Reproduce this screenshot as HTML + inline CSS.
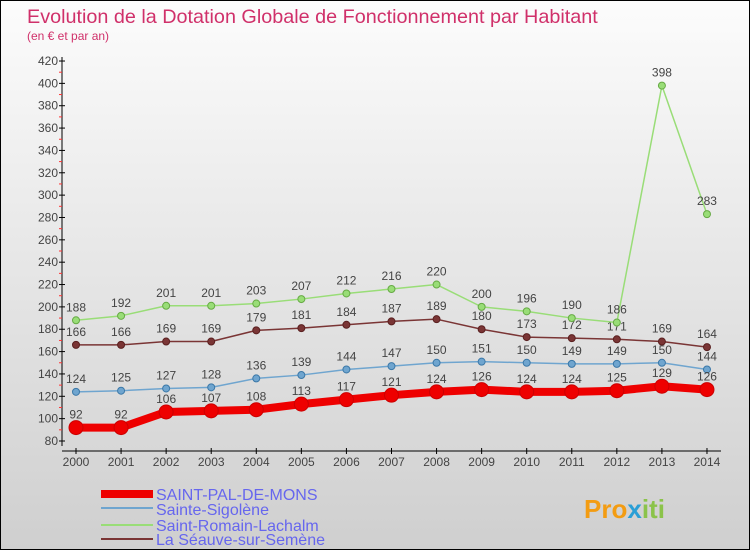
<!DOCTYPE html>
<html><head><meta charset="utf-8"><style>
body{margin:0}
#c{width:748px;height:548px;border:1px solid #000;background:linear-gradient(#fcfcfc,#cfcfcf);position:relative;font-family:"Liberation Sans",sans-serif;overflow:hidden}
</style></head><body>
<div id="c">
<svg id="s" width="748" height="548" style="position:absolute;left:0;top:0">
<text x="26" y="22" font-size="19.8" fill="#d0306a">Evolution de la Dotation Globale de Fonctionnement par Habitant</text>
<text x="26" y="39" font-size="12" fill="#d0306a">(en € et par an)</text>
<g id="axes"></g><g id="series"></g>
<g font-size="16" fill="#6666ee">
<rect x="100" y="489" width="52" height="8" fill="#e00"/>
<text x="155" y="499">SAINT-PAL-DE-MONS</text>
<rect x="100" y="506" width="52" height="2" fill="#6fa5cf"/>
<text x="155" y="514">Sainte-Sigolène</text>
<rect x="100" y="523" width="52" height="2" fill="#99dd77"/>
<text x="155" y="530">Saint-Romain-Lachalm</text>
<rect x="100" y="537" width="52" height="2" fill="#7a3535"/>
<text x="155" y="544">La Séauve-sur-Semène</text>
</g>
<text x="583" y="517" font-size="26" font-weight="bold" fill="#f39c12">Pro<tspan fill="#2a9fd6">x</tspan><tspan fill="#8bc34a">iti</tspan></text>
</svg>
</div>
<script>
const years=[2000,2001,2002,2003,2004,2005,2006,2007,2008,2009,2010,2011,2012,2013,2014];
const yTicks=[80,100,120,140,160,180,200,220,240,260,280,300,320,340,360,380,400,420];
const saintPal=[92,92,106,107,108,113,117,121,124,126,124,124,125,129,126];
const sainteSigolene=[124,125,127,128,136,139,144,147,150,151,150,149,149,150,144];
const saintRomain=[188,192,201,201,203,207,212,216,220,200,196,190,186,398,283];
const laSeauve=[166,166,169,169,179,181,184,187,189,180,173,172,171,169,164];
const NS="http://www.w3.org/2000/svg";
const X=i=>75+i*45.07;
const Y=v=>440-(v-80)*1.1176;
function el(t,a,p){const e=document.createElementNS(NS,t);for(const k in a)e.setAttribute(k,a[k]);p.appendChild(e);return e;}
const ax=document.getElementById('axes'),se=document.getElementById('series');
const ya=el('line',{x1:61,y1:56,x2:61,y2:445,stroke:'#000'},ax);


const xa=el('line',{x1:61,y1:450,x2:720,y2:450,stroke:'#000'},ax);


yTicks.forEach(v=>{
 el('line',{x1:58,y1:Y(v),x2:64,y2:Y(v),stroke:'#000'},ax);
 if(v<420)el('line',{x1:58,y1:Y(v+10),x2:61,y2:Y(v+10),stroke:'#f33'},ax);
 const t=el('text',{x:57,y:Y(v)+4,'font-size':12,fill:'#444','text-anchor':'end'},ax);t.textContent=v;
 
 
});
years.forEach((yr,i)=>{
 el('line',{x1:X(i),y1:447,x2:X(i),y2:453,stroke:'#000'},ax);
 const t=el('text',{x:X(i),y:465,'font-size':12,fill:'#444','text-anchor':'middle'},ax);t.textContent=yr;
 
 
});
function series(d,col,dark,w,r,name,lab){
 const g=el('g',{},se);
 
 
 el('polyline',{points:d.map((v,i)=>X(i)+','+Y(v)).join(' '),fill:'none',stroke:col,'stroke-width':w,'stroke-linejoin':'round'},g);
 d.forEach((v,i)=>{
  const c=el('circle',{cx:X(i),cy:Y(v),r:r,fill:col,stroke:dark,'stroke-width':1},g);
  
  
  if(lab){const t=el('text',{x:X(i),y:Y(v)-9,'font-size':12,fill:'#444','text-anchor':'middle'},g);t.textContent=v;
  
  }
 });
}
series(laSeauve,'#7a3535','#5a2020',1.5,3.5,'series-la-seauve',1);
series(saintRomain,'#99dd77','#66aa44',1.5,3.5,'series-saint-romain',1);
series(sainteSigolene,'#6fa5cf','#3b78a8',1.5,3.5,'series-sainte-sigolene',1);
series(saintPal,'#e00','#c00',8,7,'series-saint-pal',1);
</script>
</body></html>
